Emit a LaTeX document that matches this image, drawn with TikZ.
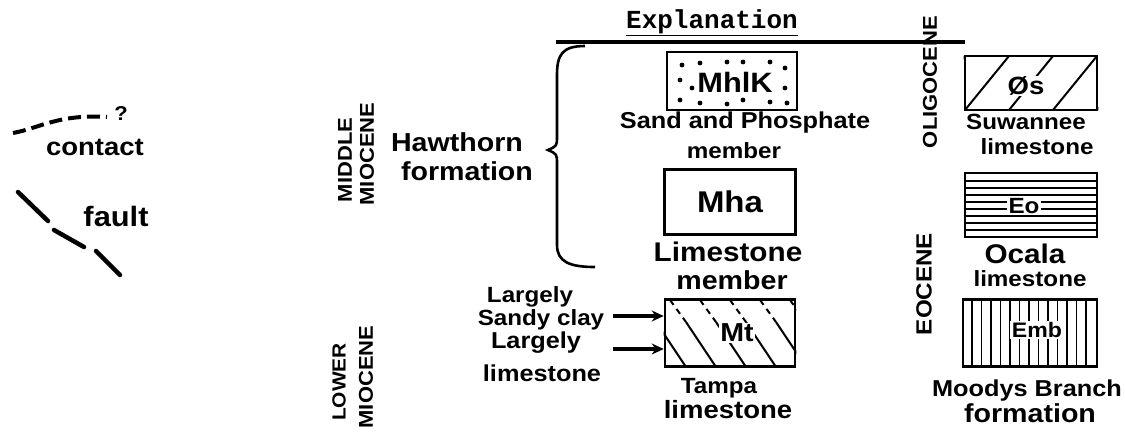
\documentclass[tikz,border=0pt]{standalone}
\usepackage{fontspec}
\newfontfamily\hand[FakeStretch=1.1]{Liberation Sans}
\newfontfamily\twr{Liberation Mono}
\usetikzlibrary{arrows.meta}
\newcommand\fz[1]{\fontsize{#1}{#1}\selectfont}
\begin{document}
\begin{tikzpicture}[x=1pt,y=-1pt,
  lbl/.style={inner sep=0pt, anchor=center},
  age/.style={lbl, rotate=90, font=\hand\bfseries\fz{20}},
  unitbox/.style={draw, line width=2.6pt, inner sep=0pt},
  hatch/.style={line width=2pt},
  thin/.style={line width=1.4pt},
  arr/.style={line width=3.4pt, -{Stealth[length=12pt,width=11pt]}},
  markline/.style={line width=4.5pt, line cap=round}]
\useasboundingbox (0,0) rectangle (1125,432);

% ---------- contact / fault ----------
\coordinate (c1) at (13,133); \coordinate (c2) at (107,117);
\draw[line width=4pt, dash pattern=on 13pt off 6pt] (c1) .. controls (40,128) and (58,114) .. (c2);
\node[lbl, font=\hand\bfseries\fz{20}] (q) at (121,114) {?};
\node[lbl, font=\hand\bfseries\fz{25}] (contact) at (95,147) {contact};
\coordinate (f1) at (18,192); \coordinate (f2) at (48,221);
\coordinate (f3) at (54,230); \coordinate (f4) at (84,247);
\coordinate (f5) at (96,251); \coordinate (f6) at (120,275);
\draw[markline] (f1) -- (f2);
\draw[markline] (f3) -- (f4);
\draw[markline] (f5) -- (f6);
\node[lbl, font=\hand\bfseries\fz{28}] (fault) at (116,216) {fault};

% ---------- ages ----------
\node[age] (middle) at (345,160) {MIDDLE};
\node[age] (miocA) at (367,154) {MIOCENE};
\node[age, font=\hand\bfseries\fz{19}] (lower) at (339,382) {LOWER};
\node[age] (miocB) at (366,377) {MIOCENE};
\node[age] (oligo) at (930,82) {OLIGOCENE};
\node[age, font=\hand\bfseries\fz{22}] (eocene) at (924,284) {EOCENE};

% ---------- Hawthorn ----------
\node[lbl, font=\hand\bfseries\fz{26}] (haw) at (457,142) {Hawthorn};
\node[lbl, font=\hand\bfseries\fz{26}] (form) at (467,171) {formation};
\draw[line width=2.6pt] (585,46) .. controls (562,46) and (557,55) .. (557,75)
  -- (557,136) .. controls (557,146) .. (548,150) .. controls (557,154) .. (557,164)
  -- (557,245) .. controls (557,262) and (570,267) .. (595,267);

% ---------- Explanation ----------
\node[lbl, font=\twr\bfseries\fz{26}] (expl) at (712,22) {Explanation};
\draw[line width=1.4pt] ([yshift=-1pt]expl.south west) -- ([yshift=-1pt]expl.south east);
\coordinate (hl) at (556,42); \coordinate (hr) at (965,42);
\draw[line width=4pt] (hl) -- (hr);

% ---------- MhlK ----------
\node[unitbox, minimum width=130pt, minimum height=58pt] (mhlk) at (732,81) {};
\foreach \p in {(682,65),(700,63),(727,62),(743,62),(770,62),(785,68),(680,80),(692,88),(785,88),
  (680,100),(700,103),(727,104),(743,100),(770,102),(787,103)}
  \fill \p circle (2.4pt);
\node[lbl, font=\hand\bfseries\fz{28}] (mhlkT) at (735,82) {MhlK};
\node[lbl, font=\hand\bfseries\fz{23}] (sand) at (745,123) {Sand and Phosphate};
\node[lbl, font=\hand\bfseries\fz{22}] (mem1) at (734,151) {member};

% ---------- Mha ----------
\node[unitbox, minimum width=131pt, minimum height=65pt, font=\hand\bfseries\fz{30}] (mha) at (730,202) {Mha};
\node[lbl, font=\hand\bfseries\fz{27}] (lime1) at (728,252) {Limestone};
\node[lbl, font=\hand\bfseries\fz{26}] (mem2) at (732,280) {member};

% ---------- Mt ----------
\node[unitbox, minimum width=130pt, minimum height=67pt] (mt) at (730,333) {};
\begin{scope}
\clip (mt.south west) rectangle (mt.north east);
\foreach \x in {640,670,700,730,760,790} {
  \draw[hatch, dash pattern=on 6pt off 5pt] (\x,300) -- (\x+16,322);
  \draw[hatch] (\x+16,322) -- (\x+46,367);
}
\end{scope}
\node[lbl, font=\hand\bfseries\fz{26}, fill=white, inner sep=1pt] (mtT) at (737,333) {Mt};
\node[lbl, font=\hand\bfseries\fz{22}] (tampa) at (719,388) {Tampa};
\node[lbl, font=\hand\bfseries\fz{25}] (lime2) at (728,410) {limestone};

\node[lbl, font=\hand\bfseries\fz{22}] (lg1) at (530,297) {Largely};
\node[lbl, font=\hand\bfseries\fz{22}] (sc) at (541,320) {Sandy clay};
\node[lbl, font=\hand\bfseries\fz{23}] (lg2) at (536,343) {Largely};
\node[lbl, font=\hand\bfseries\fz{23}] (lime3) at (542,373) {limestone};
\coordinate (a1) at (613,316); \coordinate (a2) at (613,349);
\draw[arr] (a1) -- (mt.west |- a1);
\draw[arr] (a2) -- (mt.west |- a2);

% ---------- Os ----------
\node[unitbox, minimum width=132pt, minimum height=54pt] (os) at (1031,83) {};
\begin{scope}
\clip (os.south west) rectangle (os.north east);
\foreach \x in {921,965,1009,1053,1097}
  \draw[hatch] (\x,110) -- (\x+44,56);
\end{scope}
\node[lbl, font=\hand\bfseries\fz{25}, fill=white, inner sep=1pt] (osT) at (1026,86) {Øs};
\node[lbl, font=\hand\bfseries\fz{22}] (suw) at (1026,122) {Suwannee};
\node[lbl, font=\hand\bfseries\fz{22}] (lime4) at (1037,147) {limestone};

% ---------- Eo ----------
\node[unitbox, minimum width=132pt, minimum height=64pt] (eo) at (1031,205) {};
\foreach \y in {181,188,195,202,209,216,223,230}
  \draw[thin] (eo.west |- 0,\y) -- (eo.east |- 0,\y);
\node[lbl, font=\hand\bfseries\fz{22}, fill=white, inner sep=1.5pt] (eoT) at (1024,206) {Eo};
\node[lbl, font=\hand\bfseries\fz{27}] (ocala) at (1025,254) {Ocala};
\node[lbl, font=\hand\bfseries\fz{22}] (lime5) at (1030,279) {limestone};

% ---------- Emb ----------
\node[unitbox, minimum width=134pt, minimum height=67pt] (emb) at (1030,333) {};
\foreach \x in {972,981.5,991,1000.5,1010,1019.5,1029,1038.5,1048,1057.5,1067,1076.5,1086}
  \draw[thin] (\x,300) -- (\x,367);
\node[lbl, font=\hand\bfseries\fz{21}, fill=white, inner sep=1.5pt] (embT) at (1037,330) {Emb};
\node[lbl, font=\hand\bfseries\fz{23}] (moody) at (1027,391) {Moodys Branch};
\node[lbl, font=\hand\bfseries\fz{26}] (form2) at (1030,413) {formation};
\end{tikzpicture}
\end{document}
